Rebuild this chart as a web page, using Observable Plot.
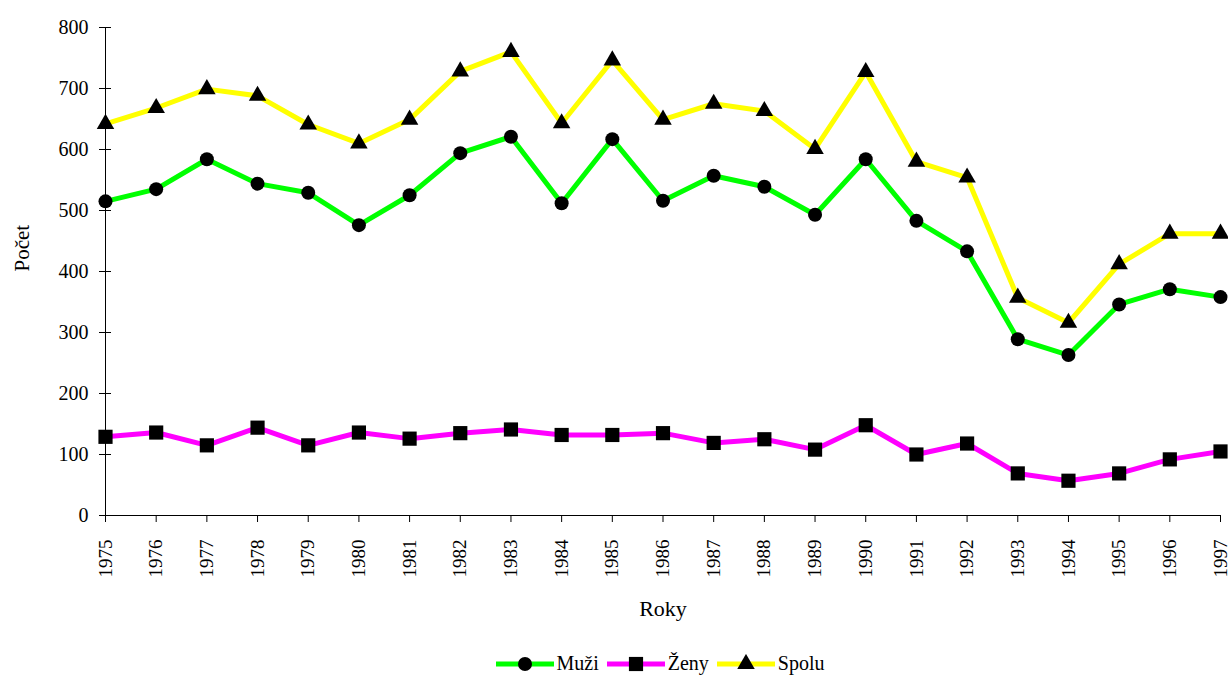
<!DOCTYPE html>
<html>
<head>
<meta charset="utf-8">
<script src="https://cdn.jsdelivr.net/npm/d3@7"></script>
<script src="https://cdn.jsdelivr.net/npm/@observablehq/plot@0.6"></script>
<style>
  html, body { margin: 0; padding: 0; background: #fff; }
  #chart svg { display: block; }
  #legend { width: 1228px; height: 35px; margin-top: 6px; display: flex; justify-content: center; align-items: center; box-sizing: border-box; padding-left: 92px; font-family: "Liberation Serif", Tinos, "Times New Roman", Times, "Nimbus Roman", "DejaVu Serif", serif; font-size: 20px; color: #000; }
  .item { display: flex; align-items: center; margin: 0 4px; }
  .item svg { margin-right: 3px; }
</style>
</head>
<body>
<div id="chart"></div>
<div id="legend"></div>
<script>
const years = [1975,1976,1977,1978,1979,1980,1981,1982,1983,1984,1985,1986,1987,1988,1989,1990,1991,1992,1993,1994,1995,1996,1997];
const muzi  = [515,535,584,544,529,476,525,594,621,512,617,516,557,539,493,584,483,433,289,263,346,371,358];
const zeny  = [129,136,115,144,115,136,126,135,141,132,132,135,119,125,108,148,100,118,69,57,69,92,105];
const spolu = [642,668,699,688,641,610,649,728,760,643,746,649,675,663,601,727,580,554,357,316,412,462,462];
const yTicks = [0,100,200,300,400,500,600,700,800];
const seriesNames = ["Muži","Ženy","Spolu"];
const seriesColors = ["#00ff00","#ff00ff","#ffff00"];
const seriesSymbols = ["circle","square","triangle"];
const seriesR = [7, 8, 6.5];

const seriesValues = [muzi, zeny, spolu];
const rows = seriesNames.map((name, i) => years.map((year, j) => ({name, year, value: seriesValues[i][j]})));

const font = "'Liberation Serif', Tinos, 'Times New Roman', Times, 'Nimbus Roman', 'DejaVu Serif', serif";
const drawOrder = [2, 0, 1];

const plot = Plot.plot({
  width: 1228,
  height: 640,
  marginLeft: 105,
  marginRight: 8,
  marginTop: 27,
  marginBottom: 125,
  style: {fontFamily: font, fontSize: "19px", color: "#000", background: "#fff", overflow: "visible"},
  x: {domain: [1975, 1997]},
  y: {domain: [0, 800]},
  marks: [
    Plot.axisY({ticks: yTicks, tickSize: 6, tickPadding: 11, fontSize: 20, fontFamily: font, label: null}),
    Plot.axisY({ticks: yTicks, tickSize: -6, text: null, label: null}),
    Plot.axisX({ticks: years, tickFormat: d => String(d), tickRotate: -90, tickSize: 7, tickPadding: 17, fontSize: 19, fontFamily: font, label: null}),
    Plot.ruleX([1975], {stroke: "#000"}),
    Plot.ruleY([0], {stroke: "#000"}),
    ...drawOrder.map(i => Plot.line(rows[i], {x: "year", y: "value", stroke: seriesColors[i], strokeWidth: 5, strokeLinejoin: "miter", strokeLinecap: "butt"})),
    ...drawOrder.map(i => Plot.dot(rows[i], {x: "year", y: "value", symbol: seriesSymbols[i], r: seriesR[i], fill: "#000", stroke: "none"})),
    Plot.text(["Počet"], {frameAnchor: "left", dx: -83, rotate: -90, fontSize: 21, fontFamily: font, fill: "#000"}),
    Plot.text(["Roky"], {frameAnchor: "bottom", dy: 100, fontSize: 22, fontFamily: font, fill: "#000"})
  ]
});
document.getElementById("chart").appendChild(plot);

const legend = document.getElementById("legend");
const symPaths = {
  circle: d3.symbol(d3.symbolCircle, Math.PI * 7 * 7)(),
  square: d3.symbol(d3.symbolSquare, Math.PI * 8 * 8)(),
  triangle: d3.symbol(d3.symbolTriangle, Math.PI * 6.5 * 6.5)()
};
seriesNames.forEach((name, i) => {
  const item = document.createElement("div");
  item.className = "item";
  item.innerHTML = `<svg width="58" height="20" viewBox="0 0 58 20"><line x1="0" x2="58" y1="10" y2="10" stroke="${seriesColors[i]}" stroke-width="5" stroke-linecap="round"/><path transform="translate(29,10)" d="${symPaths[seriesSymbols[i]]}" fill="#000"/></svg><span>${name}</span>`;
  legend.appendChild(item);
});
</script>
</body>
</html>
